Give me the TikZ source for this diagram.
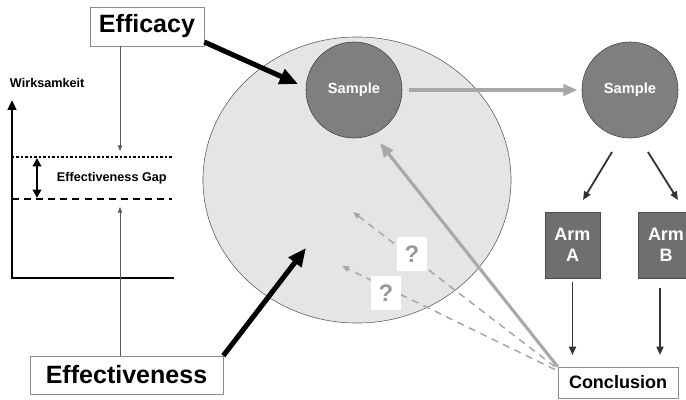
\documentclass[tikz,border=0pt]{standalone}
\usepackage{fontspec}
\setmainfont{Liberation Sans}
\usepackage{xcolor}
\usetikzlibrary{arrows.meta,shapes.geometric}
\definecolor{popfill}{HTML}{E5E5E5}
\definecolor{popline}{HTML}{5A5A5A}
\definecolor{smpfill}{HTML}{7F7F7F}
\definecolor{armfill}{HTML}{6F6F6F}
\definecolor{lightarrow}{HTML}{A8A8A8}
\tikzset{bigbox/.style={draw=black!45,fill=white,font=\bfseries\fontsize{17.8}{20}\selectfont},
	sample/.style={shape=circle,draw=black!75,fill=smpfill,minimum size=2.4cm,inner sep=0pt,
		text=white,font=\bfseries\fontsize{10.4}{12}\selectfont},
	arm/.style={draw=black!70,fill=armfill,minimum width=1.375cm,minimum height=1.65cm,
		text=white,align=center,font=\bfseries\fontsize{12.8}{15}\selectfont},
	qbox/.style={fill=white,minimum width=0.75cm,minimum height=0.85cm,inner sep=0pt,
		text=black!40,font=\bfseries\fontsize{17}{20}\selectfont},
	heavy/.style={line width=3.6pt,-{Triangle[length=13pt,width=11pt]}},
	pale/.style={color=lightarrow,-{Triangle[length=10pt,width=8pt]}},
	guess/.style={color=lightarrow,line width=1.1pt,dash pattern=on 5pt off 4pt,-{Triangle[length=5pt,width=4pt]}},
	split/.style={color=black!80,line width=1.3pt,-{Triangle[length=6pt,width=5pt]}},
	thin/.style={color=black!65,line width=0.7pt,-{Triangle[length=4pt,width=3pt]}}}

\begin{document}
\begin{tikzpicture}[x=0.025cm,y=-0.025cm]
	\useasboundingbox (0,0) rectangle (686,400);
	% population
	\node[shape=ellipse,draw=popline,fill=popfill,minimum width=7.7cm,minimum height=7.15cm,inner sep=0pt] (pop) at (357,180) {};
	\node[sample] (S1) at (354,90) {Sample};
	\node[sample] (S2) at (630,90) {Sample};
	\node[arm] (A) at (572.5,245) {Arm\\A};
	\node[arm] (B) at (666,245) {Arm\\B};
	\node[draw=black!45,fill=white,minimum width=3cm,minimum height=0.775cm,inner sep=0pt,
		font=\bfseries\fontsize{12.8}{15}\selectfont] (concl) at (618,382.5) {Conclusion};
	\node[bigbox,minimum width=2.85cm,minimum height=0.975cm,inner sep=0pt] (effic) at (147,26.5) {Efficacy};
	\node[bigbox,minimum width=4.825cm,minimum height=0.95cm,inner sep=0pt] (effec) at (126.5,375) {Effectiveness};

	\coordinate (in1) at (306,248);
	\coordinate (in2) at (353,212);
	\coordinate (in3) at (342,266);
	\coordinate (up) at (380,143);

	\path [pale,line width=3.5pt,shorten <=5pt,shorten >=3pt](S1) edge (S2);
	\path [pale,line width=2.2pt](concl.north west) edge (up);
	\path [guess]([xshift=-2pt]concl.north west) edge (in2);
	\path [guess]([xshift=-2pt,yshift=-2pt]concl.north west) edge (in3);
	\node[qbox] (q1) at (412,254) {?};
	\node[qbox] (q2) at (386,293) {?};

	\path [split](612,152) edge (583,200);
	\path [split](648,152) edge (678,200);
	\path [split](A.south |- 0,282) edge (A.south |- 0,355);
	\path [split](660,288) edge (660,355);

	\path [heavy](effic.east |- 0,42) edge (298,84);
	\path [heavy](effec.north east) edge (in1);

	% efficacy chart
	\coordinate (ytop) at (12,100);
	\coordinate (orig) at (12,278);
	\coordinate (xend) at (174,278);
	\coordinate (hi) at (120,151);
	\coordinate (lo) at (120,207);
	\draw[line width=1.8pt,{Triangle[length=7pt,width=6pt]}-] (ytop) -- (orig) -- (xend);
	\draw[line width=1.6pt,dash pattern=on 1.6pt off 1.6pt] (12,157) -- (172,157);
	\draw[line width=1.8pt,dash pattern=on 5pt off 3.6pt] (12,199) -- (172,199);
	\draw[line width=1.6pt,{Triangle[length=6pt,width=6pt]}-{Triangle[length=6pt,width=6pt]}] (37,158) -- (37,198);
	\node[anchor=west,font=\bfseries\fontsize{9}{11}\selectfont] (gap) at (52,178) {Effectiveness Gap};
	\node[anchor=west,font=\bfseries\fontsize{9}{11}\selectfont] (wirk) at (5,83) {Wirksamkeit};
	\path [thin](effic.south -| hi) edge (hi);
	\path [thin](effec.north -| lo) edge (lo);
\end{tikzpicture}
\end{document}
